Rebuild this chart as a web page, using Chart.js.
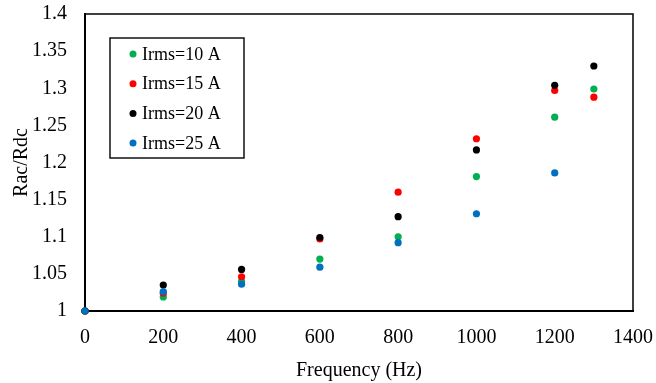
<!DOCTYPE html>
<html>
<head>
<meta charset="utf-8">
<script src="https://cdn.jsdelivr.net/npm/chart.js@4/dist/chart.umd.min.js"></script>
<style>
  html, body { margin: 0; padding: 0; background: #fff; }
  #wrap { width: 656px; height: 383px; }
</style>
</head>
<body>
<div id="wrap"><canvas id="racChart"></canvas></div>
<script>
// frequency points (Hz)
const freq = [0, 200, 400, 600, 800, 1000, 1200, 1300];
const freqBlue = [0, 200, 400, 600, 800, 1000, 1200];

// Rac/Rdc
const irms10 = [1, 1.019, 1.040, 1.070, 1.100, 1.181, 1.261, 1.299];
const irms15 = [1, 1.024, 1.046, 1.097, 1.160, 1.232, 1.297, 1.288];
const irms20 = [1, 1.035, 1.056, 1.099, 1.127, 1.217, 1.304, 1.330];
const irms25 = [1, 1.026, 1.036, 1.059, 1.092, 1.131, 1.186];

const seriesLabels = ["Irms=10 A", "Irms=15 A", "Irms=20 A", "Irms=25 A"];
const seriesColors = ["#00B050", "#FF0000", "#000000", "#0070C0"];
const yTickLabels = ["1", "1.05", "1.1", "1.15", "1.2", "1.25", "1.3", "1.35", "1.4"];
const xTickLabels = ["0", "200", "400", "600", "800", "1000", "1200", "1400"];

const toPoints = (xs, ys) => ys.map((y, i) => ({ x: xs[i], y: y }));

const FONT = "'Liberation Serif', 'Times New Roman', serif";

// box border + legend drawn inside the plot, like the excel chart
const frameAndLegend = {
  id: "frameAndLegend",
  afterDraw(chart) {
    const { ctx, chartArea } = chart;
    ctx.save();
    ctx.strokeStyle = "#000";
    ctx.lineWidth = 1.5;
    ctx.beginPath();
    ctx.moveTo(chartArea.left, chartArea.top);
    ctx.lineTo(chartArea.right, chartArea.top);
    ctx.lineTo(chartArea.right, chartArea.bottom);
    ctx.stroke();

    // legend
    const bx = 110, by = 38, bw = 134, bh = 120;
    ctx.lineWidth = 1.4;
    ctx.strokeRect(bx, by, bw, bh);
    ctx.font = "18px " + FONT;
    ctx.textBaseline = "middle";
    ctx.textAlign = "left";
    chart.data.datasets.forEach((ds, i) => {
      const yy = 54 + i * 29.7;
      ctx.fillStyle = ds.backgroundColor;
      ctx.beginPath();
      ctx.arc(133, yy, 3.5, 0, Math.PI * 2);
      ctx.fill();
      ctx.fillStyle = "#000";
      ctx.fillText(ds.label, 142, yy + 1);
    });
    ctx.restore();
  },
};

new Chart(document.getElementById("racChart"), {
  type: "scatter",
  data: {
    datasets: [
      { label: seriesLabels[0], data: toPoints(freq, irms10) },
      { label: seriesLabels[1], data: toPoints(freq, irms15) },
      { label: seriesLabels[2], data: toPoints(freq, irms20) },
      { label: seriesLabels[3], data: toPoints(freqBlue, irms25) },
    ].map((ds, i) => ({
      ...ds,
      backgroundColor: seriesColors[i],
      borderColor: seriesColors[i],
      pointRadius: 3.6,
      pointBorderWidth: 0,
      clip: false,
      order: 4 - i,
    })),
  },
  options: {
    responsive: true,
    maintainAspectRatio: false,
    animation: false,
    layout: { padding: { top: 14, right: 23, left: 0, bottom: 0 } },
    plugins: {
      legend: { display: false },
      tooltip: { enabled: false },
    },
    scales: {
      x: {
        type: "linear",
        min: 0,
        max: 1400,
        ticks: {
          stepSize: 200,
          color: "#000",
          padding: 15,
          maxRotation: 0,
          font: { family: FONT, size: 20 },
          callback: (value, index) => xTickLabels[index],
        },
        grid: { display: false, drawTicks: false },
        border: { display: true, color: "#000", width: 2 },
        title: {
          display: true,
          text: "Frequency (Hz)",
          color: "#000",
          padding: { top: 2, bottom: 0 },
          font: { family: FONT, size: 20 },
        },
        afterFit: (scale) => {
          scale.height = 72;
          scale.paddingLeft = 0;
          scale.paddingRight = 0;
        },
      },
      y: {
        min: 1,
        max: 1.4,
        ticks: {
          stepSize: 0.05,
          color: "#000",
          padding: 18,
          font: { family: FONT, size: 20 },
          callback: (value, index) => yTickLabels[index],
        },
        grid: { display: false, drawTicks: false },
        border: { display: true, color: "#000", width: 2 },
        title: {
          display: true,
          text: "Rac/Rdc",
          color: "#000",
          padding: { top: 10, bottom: 0 },
          font: { family: FONT, size: 20 },
        },
        afterFit: (scale) => {
          scale.width = 85;
          scale.paddingTop = 0;
          scale.paddingBottom = 0;
        },
      },
    },
  },
  plugins: [frameAndLegend],
});
</script>
</body>
</html>
